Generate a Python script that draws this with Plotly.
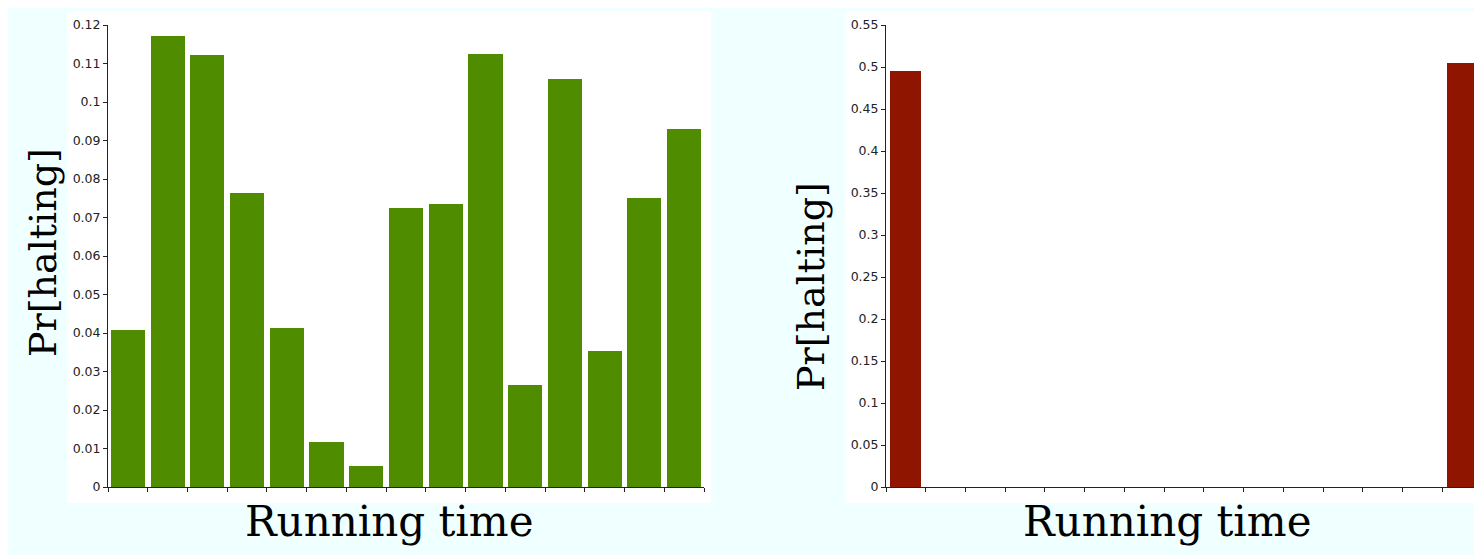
import plotly.graph_objects as go

# ---------------- data ----------------
bins = list(range(1, 16))
left_probs = [0.0408, 0.1171, 0.1122, 0.0764, 0.0413, 0.0117, 0.0055, 0.0725,
              0.0735, 0.1125, 0.0265, 0.1060, 0.0353, 0.0751, 0.0930]
right_probs = [0.495, 0, 0, 0, 0, 0, 0, 0, 0, 0, 0, 0, 0, 0, 0.505]

left_tickvals = [0, 0.01, 0.02, 0.03, 0.04, 0.05, 0.06, 0.07, 0.08, 0.09, 0.10, 0.11, 0.12]
left_ticktext = ["0", "0.01", "0.02", "0.03", "0.04", "0.05", "0.06", "0.07", "0.08",
                 "0.09", "0.1", "0.11", "0.12"]
right_tickvals = [0, 0.05, 0.10, 0.15, 0.20, 0.25, 0.30, 0.35, 0.40, 0.45, 0.50, 0.55]
right_ticktext = ["0", "0.05", "0.1", "0.15", "0.2", "0.25", "0.3", "0.35", "0.4",
                  "0.45", "0.5", "0.55"]
bin_edges = list(range(0, 16))

x_title = "Running time"
y_title = "Pr[halting]"

# ---------------- layout helpers ----------------
# page keeps an 8px margin at top/left; figure fills the rest of the 1474x555 window
OFF = 8
W, H = 1474 - OFF, 555 - OFF
def px(x):
    return (x - OFF) / W
def py(y):
    return 1 - (y - OFF) / H

GREEN = "#4f8c00"
RED = "#901500"
CYAN = "#f0ffff"
TICKFONT = dict(family="DejaVu Sans", size=12.5, color="#222222")
TITLEFONT = dict(family="DejaVu Serif", color="#000000")

centers = [b - 0.5 for b in bins]
bin_px = (704 - 108) / 15.0
right_end = (1474 - 886) / bin_px

fig = go.Figure()
fig.add_trace(go.Bar(x=centers, y=left_probs, width=0.86, marker=dict(color=GREEN, line=dict(width=0)),
                     xaxis="x", yaxis="y", showlegend=False, hoverinfo="y"))
fig.add_trace(go.Bar(x=centers, y=right_probs, width=0.78, marker=dict(color=RED, line=dict(width=0)),
                     xaxis="x2", yaxis="y2", showlegend=False, hoverinfo="y"))

axis_common = dict(showline=True, linecolor="#222222", linewidth=1, ticks="outside",
                   ticklen=4, tickwidth=1, tickcolor="#222222", showgrid=False,
                   zeroline=False, fixedrange=True, automargin=False)

fig.update_layout(
    template="none",
    width=W, height=H,
    margin=dict(l=0, r=0, t=0, b=0, pad=0, autoexpand=False),
    paper_bgcolor=CYAN,
    plot_bgcolor="rgba(0,0,0,0)",
    bargap=0,
    showlegend=False,
    xaxis=dict(domain=[px(108), px(704)], range=[0, 15], anchor="y",
               tickvals=bin_edges, showticklabels=False, **axis_common),
    yaxis=dict(domain=[py(487), py(25)], range=[0, 0.12], anchor="x",
               tickvals=left_tickvals, ticktext=left_ticktext, tickfont=TICKFONT,
               **axis_common),
    xaxis2=dict(domain=[px(886), 1.0], range=[0, right_end], anchor="y2",
                tickvals=bin_edges, showticklabels=False, **axis_common),
    yaxis2=dict(domain=[py(487), py(25)], range=[0, 0.55], anchor="x2",
                tickvals=right_tickvals, ticktext=right_ticktext, tickfont=TICKFONT,
                **axis_common),
    shapes=[
        dict(type="rect", xref="paper", yref="paper", x0=px(67), x1=px(711), y0=py(503), y1=py(11),
             fillcolor="white", line=dict(width=0), layer="below"),
        dict(type="rect", xref="paper", yref="paper", x0=px(845), x1=1.02, y0=py(503), y1=py(11),
             fillcolor="white", line=dict(width=0), layer="below"),
    ],
    annotations=[
        dict(text=x_title, xref="paper", yref="paper", x=px(389), y=py(521), xanchor="center",
             yanchor="middle", showarrow=False, font=dict(size=42, **TITLEFONT)),
        dict(text=x_title, xref="paper", yref="paper", x=px(1167), y=py(521), xanchor="center",
             yanchor="middle", showarrow=False, font=dict(size=42, **TITLEFONT)),
        dict(text=y_title, xref="paper", yref="paper", x=px(43), y=py(253), xanchor="center",
             yanchor="middle", textangle=-90, showarrow=False, font=dict(size=38, **TITLEFONT)),
        dict(text=y_title, xref="paper", yref="paper", x=px(811), y=py(286), xanchor="center",
             yanchor="middle", textangle=-90, showarrow=False, font=dict(size=38, **TITLEFONT)),
    ],
)

fig.write_html("out.html", config=dict(displayModeBar=False),
               post_script="document.body.style.margin='8px 0 0 8px';")
